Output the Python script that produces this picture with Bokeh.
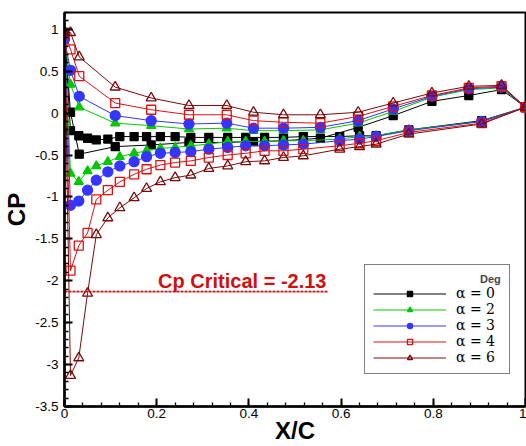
from bokeh.plotting import figure
from bokeh.models import Range1d, FixedTicker, Legend, LegendItem
from bokeh.models import Label
from bokeh.embed import file_html
from bokeh.resources import INLINE

# ---------------- data ----------------
# lower-surface stations (pressure side, leading edge -> trailing edge)
x_lower = [0.0, 0.013, 0.032, 0.11, 0.188, 0.27, 0.352, 0.41, 0.475, 0.555,
           0.637, 0.713, 0.797, 0.877, 0.948, 1.0]
# upper-surface stations (suction side)
x_upper = [0.013, 0.031, 0.05, 0.069, 0.094, 0.12, 0.151, 0.178, 0.208, 0.24,
           0.274, 0.313, 0.354, 0.393, 0.434, 0.475, 0.518, 0.597, 0.64, 0.676,
           0.747, 0.905, 1.0]

cp_lower_a0 = [0.95, 0.01, -0.49, -0.40, -0.38, -0.35, -0.35, -0.34, -0.33, -0.30,
               -0.17, -0.03, 0.14, 0.21, 0.28, 0.07]
cp_lower_a2 = [0.93, 0.34, 0.07, -0.12, -0.15, -0.19, -0.18, -0.21, -0.21, -0.20,
               -0.12, 0.02, 0.19, 0.28, 0.30, 0.07]
cp_lower_a3 = [0.88, 0.51, 0.20, -0.03, -0.09, -0.13, -0.12, -0.18, -0.18, -0.17,
               -0.09, 0.05, 0.20, 0.29, 0.31, 0.07]
cp_lower_a4 = [0.96, 0.76, 0.44, 0.12, 0.04, -0.02, -0.02, -0.09, -0.11, -0.12,
               -0.04, 0.08, 0.21, 0.30, 0.32, 0.07]
cp_lower_a6 = [0.97, 0.96, 0.67, 0.31, 0.18, 0.09, 0.09, 0.01, -0.02, -0.02,
               0.01, 0.12, 0.24, 0.32, 0.33, 0.07]

cp_upper_a0 = [-0.21, -0.27, -0.30, -0.32, -0.31, -0.28, -0.28, -0.28, -0.28, -0.28,
               -0.29, -0.29, -0.29, -0.29, -0.29, -0.29, -0.28, -0.28, -0.27, -0.27,
               -0.20, -0.09, 0.07]
cp_upper_a2 = [-0.72, -0.82, -0.69, -0.63, -0.58, -0.52, -0.48, -0.45, -0.42, -0.41,
               -0.39, -0.37, -0.34, -0.34, -0.34, -0.33, -0.33, -0.31, -0.28, -0.27,
               -0.20, -0.10, 0.07]
cp_upper_a3 = [-1.10, -1.05, -0.92, -0.80, -0.70, -0.63, -0.58, -0.52, -0.48, -0.47,
               -0.46, -0.43, -0.41, -0.39, -0.39, -0.38, -0.37, -0.33, -0.31, -0.28,
               -0.21, -0.10, 0.07]
cp_upper_a4 = [-1.88, -1.58, -1.43, -1.03, -0.92, -0.82, -0.73, -0.67, -0.62, -0.59,
               -0.57, -0.53, -0.50, -0.48, -0.45, -0.45, -0.43, -0.39, -0.36, -0.33,
               -0.23, -0.12, 0.07]
cp_upper_a6 = [-3.13, -2.92, -2.15, -1.45, -1.25, -1.13, -1.01, -0.90, -0.82, -0.77,
               -0.74, -0.66, -0.63, -0.58, -0.57, -0.53, -0.51, -0.43, -0.40, -0.37,
               -0.25, -0.13, 0.07]

series_labels = ["\u03b1 = 0", "\u03b1 = 2", "\u03b1 = 3", "\u03b1 = 4", "\u03b1 = 6"]
legend_title = "Deg"

cp_critical = -2.13
cp_critical_x = [0.0, 0.572]
cp_critical_text = "Cp Critical = -2.13"

x_ticks = [0, 0.2, 0.4, 0.6, 0.8, 1.0]
x_tick_labels = ["0", "0.2", "0.4", "0.6", "0.8", "1"]
y_ticks = [1.0, 0.5, 0.0, -0.5, -1.0, -1.5, -2.0, -2.5, -3.0, -3.5]
y_tick_labels = ["1", "0.5", "0", "-0.5", "-1", "-1.5", "-2", "-2.5", "-3", "-3.5"]
x_minor = [round(i * 0.04, 4) for i in range(0, 26)]
y_minor = [round(-3.5 + i * 0.1, 4) for i in range(0, 48)]

# ---------------- figure ----------------
p = figure(width=526, height=446, output_backend="svg", toolbar_location=None,
           x_range=Range1d(0, 1), y_range=Range1d(-3.5, 1.2),
           min_border_left=62, min_border_right=1, min_border_top=12,
           min_border_bottom=36)
p.xgrid.visible = False
p.ygrid.visible = False
p.outline_line_color = "black"
p.outline_line_width = 2
p.background_fill_color = "white"
p.border_fill_color = "white"

for ax, ticks, minors, labels in ((p.xaxis[0], x_ticks, x_minor, x_tick_labels),
                                  (p.yaxis[0], y_ticks, y_minor, y_tick_labels)):
    ax.ticker = FixedTicker(ticks=ticks, minor_ticks=minors)
    ax.major_label_overrides = {t: l for t, l in zip(ticks, labels)}
    ax.axis_line_width = 2.5
    ax.axis_line_color = "black"
    ax.major_tick_in = 8
    ax.major_tick_out = 0
    ax.major_tick_line_width = 2
    ax.minor_tick_in = 4
    ax.minor_tick_out = 0
    ax.minor_tick_line_width = 1.3
    ax.major_label_text_font = "Liberation Sans"
    ax.major_label_text_font_size = "13.5px"
    ax.major_label_text_color = "black"
    ax.axis_label_text_font = "Liberation Sans"
    ax.axis_label_text_font_style = "bold"
    ax.axis_label_text_font_size = "24px"
    ax.axis_label_text_color = "black"

p.xaxis.axis_label = "X/C"
p.yaxis.axis_label = "CP"
p.xaxis.major_label_standoff = 2
p.xaxis.axis_label_standoff = -4
p.yaxis.major_label_standoff = 6
p.yaxis.axis_label_standoff = 2

colors = ["#000000", "#00c800", "#3535ff", "#e01010", "#7a0a0a"]
markers = ["square", "triangle", "circle", "square", "triangle"]
sizes = [8, 9, 10, 9, 10]
fills = ["#000000", "#00c800", "#3535ff", None, None]
lowers = [cp_lower_a0, cp_lower_a2, cp_lower_a3, cp_lower_a4, cp_lower_a6]
uppers = [cp_upper_a0, cp_upper_a2, cp_upper_a3, cp_upper_a4, cp_upper_a6]

items = []
for lab, col, mk, sz, fc, lo, up in zip(series_labels, colors, markers, sizes, fills, lowers, uppers):
    xs = list(reversed(x_lower)) + x_upper
    ys = list(reversed(lo)) + up
    ln = p.line(xs, ys, line_color=col, line_width=1)
    sc = p.scatter(x_lower + x_upper, lo + up, marker=mk, size=sz,
                   line_color=col, line_width=1.3,
                   fill_color=fc if fc else None, fill_alpha=1.0 if fc else 0)
    items.append(LegendItem(label=lab, renderers=[ln, sc]))

# critical pressure line and text
p.line(cp_critical_x, [cp_critical, cp_critical], line_color="#d01010",
       line_width=1.8, line_dash="3 1")
p.add_layout(Label(x=0.203, y=-2.0, text=cp_critical_text, text_color="#d01010",
                   text_font="Liberation Sans", text_font_style="bold",
                   text_font_size="20px", text_align="left",
                   text_baseline="alphabetic"))

legend = Legend(items=items, location=(300, 32),
                title="\u00a0" * 35 + legend_title,
                title_text_font="Liberation Sans", title_text_font_style="bold",
                title_text_font_size="11px", title_standoff=0,
                border_line_color="black", border_line_width=1.2,
                background_fill_color="white", background_fill_alpha=1.0,
                label_text_font="DejaVu Serif", label_text_font_size="14px",
                label_text_color="black",
                glyph_width=73, glyph_height=13, label_height=13, label_width=42,
                label_standoff=10, spacing=-1, padding=8, margin=0)
p.add_layout(legend)

open("out.html", "w").write(file_html(p, INLINE))
